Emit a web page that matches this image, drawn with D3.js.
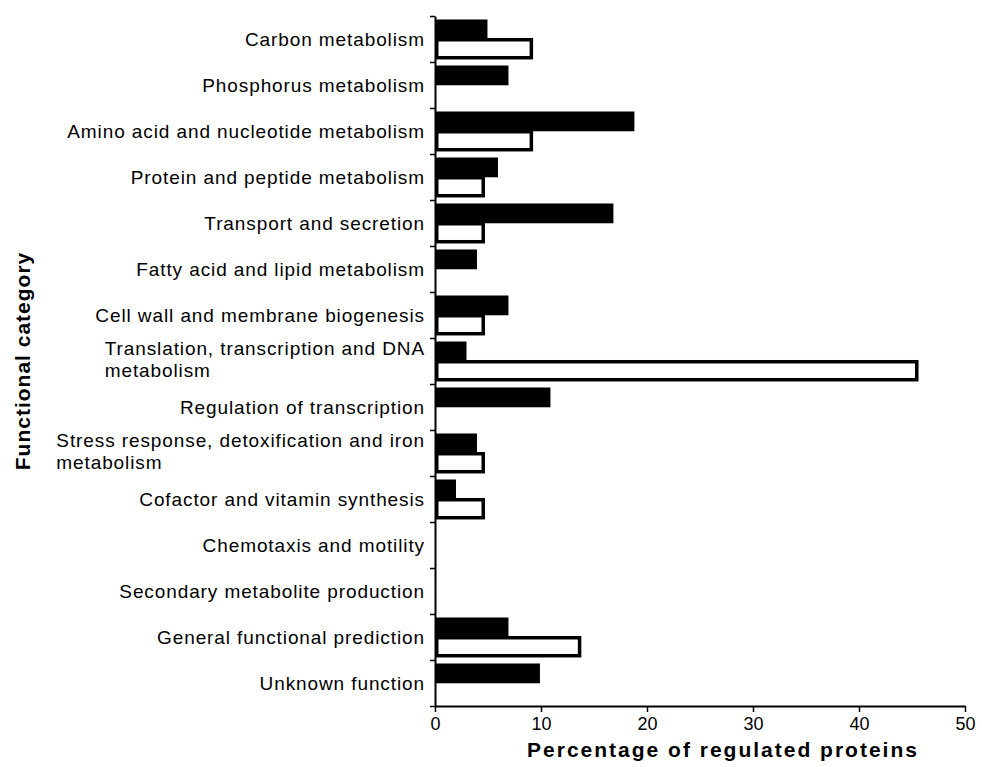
<!DOCTYPE html>
<html>
<head>
<meta charset="utf-8">
<script src="https://cdn.jsdelivr.net/npm/d3@7/dist/d3.min.js"></script>
<style>
  html, body { margin: 0; padding: 0; background: #fff; }
  svg { display: block; font-family: "Liberation Sans", Arial, sans-serif; }
</style>
</head>
<body>
<svg id="chart" width="982" height="767"></svg>
<script>
const categories = [
  "Carbon metabolism",
  "Phosphorus metabolism",
  "Amino acid and nucleotide metabolism",
  "Protein and peptide metabolism",
  "Transport and secretion",
  "Fatty acid and lipid metabolism",
  "Cell wall and membrane biogenesis",
  "Translation, transcription and DNA metabolism",
  "Regulation of transcription",
  "Stress response, detoxification and iron metabolism",
  "Cofactor and vitamin synthesis",
  "Chemotaxis and motility",
  "Secondary metabolite production",
  "General functional prediction",
  "Unknown function"
];
const filledValues = [4.95, 6.93, 18.81, 5.94, 16.83, 3.96, 6.93, 2.97, 10.89, 3.96, 1.98, 0, 0, 6.93, 9.90];
const hollowValues = [9.09, 0, 9.09, 4.55, 4.55, 0, 4.55, 45.45, 0, 4.55, 4.55, 0, 0, 13.64, 0];
const xTicks = [0, 10, 20, 30, 40, 50];
const xTitle = "Percentage of regulated proteins";
const yTitle = "Functional category";

(function () {
const svg = d3.select("#chart");
const mLeft = 435, mRight = 965, mTop = 16, mBottom = 706;

const x = d3.scaleLinear().domain([0, 50]).range([mLeft, mRight]);
const y = d3.scaleBand().domain(categories).range([mTop, mBottom]).padding(0);
const yEdges = d3.scaleLinear().domain([0, categories.length]).range([mTop, mBottom]);
const B = y.bandwidth();
const sw = 3.5;

// hollow bars (drawn first)
svg.append("g").selectAll("rect")
  .data(categories.map((c, i) => ({c, v: hollowValues[i]})).filter(d => d.v > 0))
  .join("rect")
  .attr("x", mLeft + sw / 2)
  .attr("y", d => y(d.c) + B * 0.478 + sw / 2)
  .attr("width", d => x(d.v) - mLeft - sw / 2)
  .attr("height", B * 0.467 - sw)
  .attr("fill", "#fff")
  .attr("stroke", "#000")
  .attr("stroke-width", sw);

// filled bars
svg.append("g").selectAll("rect")
  .data(categories.map((c, i) => ({c, v: filledValues[i]})).filter(d => d.v > 0))
  .join("rect")
  .attr("x", mLeft)
  .attr("y", d => y(d.c) + B * 0.076)
  .attr("width", d => x(d.v) - mLeft)
  .attr("height", B * 0.43)
  .attr("fill", "#000");

// y axis (ticks at category boundaries)
const yAxis = svg.append("g")
  .attr("transform", `translate(${mLeft},0)`)
  .call(d3.axisLeft(yEdges).tickValues(d3.range(categories.length + 1)).tickFormat("").tickSize(5).tickSizeOuter(0));
yAxis.select(".domain").attr("stroke-width", 2);
yAxis.selectAll(".tick line").attr("stroke-width", 1.5);

// x axis
const xAxis = svg.append("g")
  .attr("transform", `translate(0,${mBottom})`)
  .call(d3.axisBottom(x).tickValues(xTicks).tickSize(6).tickSizeOuter(0).tickPadding(5));
xAxis.select(".domain").attr("stroke-width", 2);
xAxis.selectAll(".tick line").attr("stroke-width", 1.5);
xAxis.selectAll(".tick text")
  .attr("font-size", 18)
  .attr("font-family", "Liberation Sans, Arial, sans-serif")
  .attr("fill", "#000");

// category labels
const labelG = svg.append("g")
  .attr("font-size", 19)
  .attr("letter-spacing", 0.9)
  .attr("fill", "#000");
categories.forEach(c => {
  let lines = [c];
  if (c.length > 40) {
    const k = c.lastIndexOf(" ");
    lines = [c.slice(0, k), c.slice(k + 1)];
  }
  const cy = y(c) + B / 2;
  const t = labelG.append("text");
  const base = cy + 6.8 - (lines.length - 1) * 10.85 - (lines.length > 1 ? 1.5 : 0);
  const spans = lines.map((ln, j) => t.append("tspan").attr("y", base + j * 21.7).text(ln));
  if (lines.length === 1) {
    t.attr("text-anchor", "end");
    spans[0].attr("x", mLeft - 10);
  } else {
    const w = d3.max(spans.map(s => s.node().getComputedTextLength()));
    spans.forEach(s => s.attr("x", mLeft - 10 - w));
  }
});

// axis titles
svg.append("text")
  .attr("x", 723).attr("y", 757)
  .attr("text-anchor", "middle")
  .attr("font-size", 21).attr("font-weight", "bold")
  .attr("letter-spacing", 2)
  .text(xTitle);

svg.append("text")
  .attr("transform", "translate(30,361) rotate(-90)")
  .attr("text-anchor", "middle")
  .attr("font-size", 21).attr("font-weight", "bold")
  .attr("letter-spacing", 1)
  .text(yTitle);
})();
</script>
</body>
</html>
